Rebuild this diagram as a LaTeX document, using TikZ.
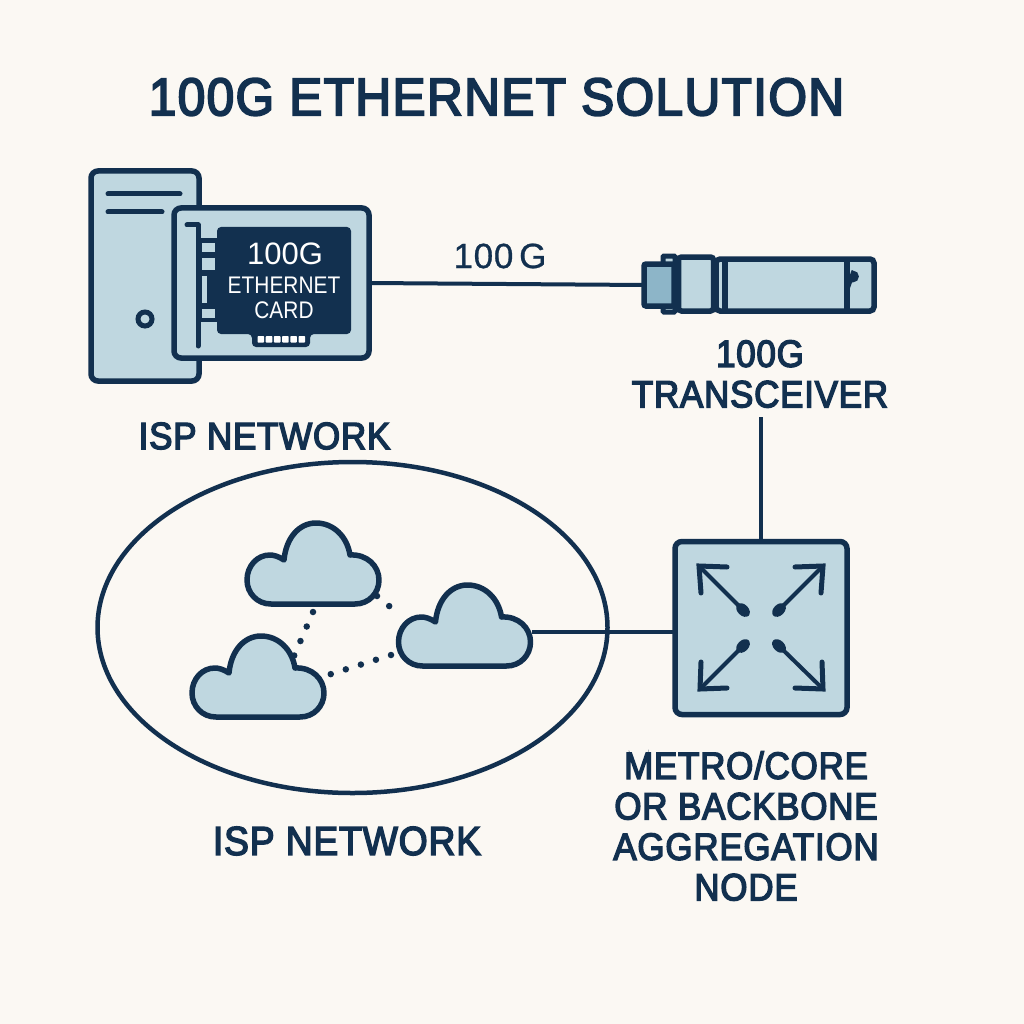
\documentclass[tikz,border=0pt]{standalone}
\usepackage{fontspec}
\usetikzlibrary{shapes.geometric}
\setmainfont{Liberation Sans}
\newfontfamily\ttlfont[FakeBold=3.6,LetterSpace=2.6,FakeStretch=0.935]{Liberation Sans}
\newfontfamily\lbl[FakeBold=3.6,LetterSpace=2,FakeStretch=0.92]{Liberation Sans}
\newfontfamily\spd[FakeBold=0.8,LetterSpace=2]{Liberation Sans}
\newfontfamily\chipf[FakeStretch=0.87]{Liberation Sans}
\definecolor{bgc}{HTML}{FBF8F3}
\definecolor{ink}{HTML}{12304F}
\definecolor{pale}{HTML}{BFD7E0}
\definecolor{mid}{HTML}{8DB5C8}
\tikzset{
 pane/.style={draw=ink,fill=pale,line width=5.5pt,rounded corners=7pt,inner sep=0pt,outer sep=0pt},
 wire/.style={draw=ink,line width=4pt},
 dotline/.style={draw=ink,line width=6.5pt,line cap=round,dash pattern=on 0pt off 15.8pt},
 barline/.style={draw=ink,line width=5pt,line cap=round},
 ttl/.style={text=ink,inner sep=0pt,font=\ttlfont\fontsize{53}{53}\selectfont},
 lab/.style={text=ink,inner sep=0pt,align=center,font=\lbl\fontsize{38}{40.5}\selectfont},
 chiptext/.style={text=white,inner sep=0pt,align=center},
 cloudpic/.pic={
  \path[draw=ink,fill=pale,line width=5.5pt,line join=round]
   (24,81) -- (108,81) .. controls (122,81) and (132,70) .. (132,57)
   .. controls (132,43) and (120,31) .. (103,32)
   .. controls (100,13) and (86,0) .. (69,0)
   .. controls (52,0) and (39,15) .. (37,37)
   .. controls (31,33) and (26,32) .. (23,32)
   .. controls (10,32) and (0,43) .. (0,57)
   .. controls (0,70) and (10,81) .. (24,81) -- cycle;
 },
}
\begin{document}
\begin{tikzpicture}[x=1pt,y=-1pt]
\useasboundingbox (0,0) rectangle (1024,1024);
\fill[bgc] (0,0) rectangle (1024,1024);
\node[ttl] (title) at (496.5,97) {100G ETHERNET SOLUTION};
% server
\node[pane,minimum width=108pt,minimum height=210pt] (server) at (145,276) {};
\draw[barline] (108,194) -- (180,194);
\draw[barline] (108,212) -- (162,212);
\node[circle,draw=ink,fill=pale,line width=5pt,minimum size=14pt,inner sep=0pt] (led) at (145,319) {};
% card
\node[pane,minimum width=195pt,minimum height=150pt] (card) at (271.5,283) {};
\fill[ink,rounded corners=4pt] (217,227) -- (351,227) -- (351,334) -- (310,334) -- (310,347) -- (252,347) -- (252,334) -- (217,334) -- cycle;
\fill[ink] (200,238) -- (225,238) -- (225,322) -- (200,322) -- cycle;
\draw[ink,line width=5pt,line cap=round,line join=round] (187,225) -- (198,225) -- (198,346);
\foreach \a/\b/\c/\d in {202/243/215/252,202/258/215/270,202/276/207/303,202/309/215/318}
  \fill[pale] (\a,\b) rectangle (\c,\d);
\foreach \i in {0,...,5}
  \fill[white,rounded corners=0.8pt] (257.5+8.2*\i,336) rectangle +(6.6,6.6);
\node[chiptext,font=\fontsize{31}{31}\selectfont] (cardA) at (285,254) {100G};
\node[chiptext,font=\chipf\fontsize{24}{24}\selectfont] (cardB) at (284,285) {ETHERNET};
\node[chiptext,font=\chipf\fontsize{24}{24}\selectfont] (cardC) at (284,310) {CARD};
% transceiver
\node[pane,rounded corners=4pt,fill=pale,minimum width=158pt,minimum height=52pt] (xcvr) at (795,285) {};
\draw[ink,line width=5.5pt] (725,258) -- (725,312);
\draw[ink,line width=5.5pt] (847,258) -- (847,312);
\draw[ink,line width=4.5pt,fill=ink] (848,280) -- (853,280) arc[start angle=90,end angle=-90,radius=3.5] -- (848,287) -- cycle;
\node[pane,rounded corners=3pt,minimum width=35pt,minimum height=54pt] (xbody) at (696,284) {};
\node[pane,rounded corners=1pt,minimum width=12pt,minimum height=56pt,line width=5pt] (xflange) at (669,284) {};
\node[pane,rounded corners=2pt,fill=mid,minimum width=30pt,minimum height=42pt] (xplug) at (659,285) {};
% labels
\node[text=ink,inner sep=0pt,font=\spd\fontsize{35}{35}\selectfont] (speed) at (500,256) {100\,G};
\node[lab] (xlabel) at (760,374) {100G\\TRANSCEIVER};
\node[lab] (isp1) at (264.5,436) {ISP NETWORK};
\node[lab,font=\lbl\fontsize{40.5}{40.5}\selectfont] (isp2) at (347,841) {ISP NETWORK};
\node[lab] (swlabel) at (746,826) {METRO/CORE\\OR BACKBONE\\AGGREGATION\\NODE};
% network
\node[ellipse,draw=ink,line width=4.5pt,minimum width=510pt,minimum height=331pt,inner sep=0pt] (net) at (352.5,627.5) {};
\pic at (247,523) {cloudpic};
\pic at (398.5,585) {cloudpic};
\pic at (192,636) {cloudpic};
\coordinate (ca1) at (377,596);
\coordinate (ca2) at (400,615);
\coordinate (cb1) at (391,655);
\coordinate (cc1) at (328,675);
\coordinate (ca3) at (313,612);
\coordinate (cc2) at (294,656);
\draw[dotline] (ca1) -- (ca2);
\draw[dotline] (cb1) -- (cc1);
\draw[dotline] (ca3) -- (cc2);
% switch
\node[pane,minimum width=172pt,minimum height=173pt] (sw) at (761,628) {};
\coordinate (cloudport) at (532,632);
\coordinate (xtop) at (761,417);
\draw[wire] (card.east) -- (xplug.west);
\draw[wire] (xtop) -- (sw.north);
\draw[wire] (cloudport) -- (sw.west |- cloudport);
\foreach \cx/\cy/\bx/\by/\ax/\ay/\dx/\dy in {
 699/566/743/610/727/567/701/593,
 823/566/779/610/795/567/821/593,
 700/689/743/646/727/688/701/662,
 823/689/779/646/795/688/822/662}{
  \draw[ink,line width=5pt,line cap=round,line join=miter] (\ax,\ay) -- (\cx,\cy) -- (\dx,\dy);
  \draw[ink,line width=4pt] (\cx,\cy) -- (\bx,\by);
  \pgfmathsetmacro{\ang}{atan2(\cy-\by,\cx-\bx)}
  \fill[ink] (\bx,\by) ellipse[x radius=8,y radius=5.5,rotate=-\ang];
}
\end{tikzpicture}
\end{document}
